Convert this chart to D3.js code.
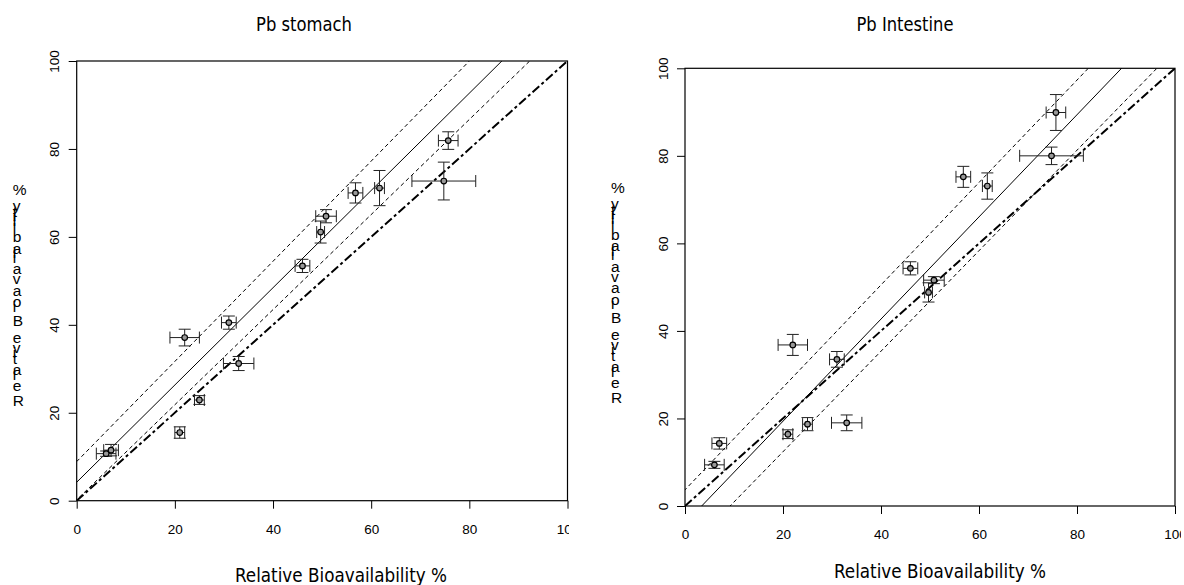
<!DOCTYPE html>
<html>
<head>
<meta charset="utf-8">
<script src="https://cdn.jsdelivr.net/npm/d3@7"></script>
<style>
	html, body { margin: 0; padding: 0; background: #fff; }
	svg { display: block; }
</style>
</head>
<body>
<svg id="chart" width="1184" height="585"></svg>
<script>

	// Values
	var ticks = [0, 20, 40, 60, 80, 100];

	// Relative bioavailability (x) and its error, shared by both panels
	var rba      = [6, 7, 21, 25, 22, 31, 33, 46, 49.7, 50.8, 56.8, 61.7, 74.8, 75.7];
	var rbaErr   = [2, 1.5, 1, 1, 3, 1.5, 3.1, 1.5, 0.8, 2.1, 1.5, 1, 6.5, 2];

	var stomach     = [10.7, 11.5, 15.5, 22.9, 37.1, 40.5, 31.2, 53.4, 61.1, 64.7, 70, 71.1, 72.7, 81.9];
	var stomachErr  = [0.6, 1.3, 1.3, 1, 1.9, 1.5, 1.6, 1.5, 2.5, 1.5, 2.3, 4, 4.3, 2];

	var intestine    = [9.4, 14.3, 16.4, 18.7, 36.8, 33.5, 19, 54.3, 48.8, 51.6, 75.2, 73.1, 80, 89.9];
	var intestineErr = [0.8, 1.3, 1, 1.5, 2.4, 1.8, 1.8, 1.5, 2.2, 0.8, 2.4, 3, 2, 4.1];

	// regression [intercept, slope] and the two band lines, each through two read points
	var stomachFit    = [4.2, 1.106];
	var stomachUpper  = [[0, 8.9], [80, 100]];
	var stomachLower  = [[0, 0.2], [92.3, 100]];

	var intestineFit   = [-3.97, 1.167];
	var intestineUpper = [[0, 3.7], [82.3, 100]];
	var intestineLower = [[9.2, 0], [96.3, 100]];

	var oneToOne = [[0, 0], [100, 100]];

	var chart = (function(){

		var svg = d3.select('#chart');
		var labelText = 'Relative Bioavailability %';
		var narrow = '"Liberation Sans Narrow", "DejaVu Sans Condensed", "Liberation Sans", sans-serif';
		var arial = '"Liberation Sans", Arial, sans-serif';

		function through(pts){
			// extend the line through two points past both ends of the plot
			var s = (pts[1][1] - pts[0][1]) / (pts[1][0] - pts[0][0]);
			return [[-20, pts[0][1] + s * (-20 - pts[0][0])], [120, pts[0][1] + s * (120 - pts[0][0])]];
		}

		function fitLine(f){
			return [[-20, f[0] + f[1] * -20], [120, f[0] + f[1] * 120]];
		}

		function stackedLabel(x0, yStart, yLast){
			// the y title is drawn as upright letters stacked bottom to top
			var meas = svg.append('text')
				.style('font-family', arial).style('font-size', '15.5px')
				.style('white-space', 'pre')
				.text(labelText);
			var chars = labelText.split('');
			var widths = chars.map(function(c, i){ return meas.node().getSubStringLength(i, 1); });
			meas.remove();
			var k = (yStart - yLast) / (d3.sum(widths) - widths[widths.length - 1]);
			var cum = 0;
			chars.forEach(function(c, i){
				if(c !== ' '){
					svg.append('text')
						.attr('x', x0)
						.attr('y', yStart - cum * k)
						.style('font-family', arial).style('font-size', '15.5px')
						.attr('fill', '#000')
						.text(c);
				}
				cum += widths[i];
			});
		}

		function panel(cfg){
			var x = d3.scaleLinear().domain([0, 100]).range([cfg.left, cfg.right]);
			var y = d3.scaleLinear().domain([0, 100]).range([cfg.bottom, cfg.top]);

			var defs = svg.append('defs');
			defs.append('clipPath').attr('id', cfg.id + '-page')
				.append('rect').attr('x', cfg.pageX).attr('y', 0).attr('width', cfg.pageW).attr('height', 585);
			defs.append('clipPath').attr('id', cfg.id + '-plot')
				.append('rect').attr('x', cfg.left).attr('y', cfg.top)
				.attr('width', cfg.right - cfg.left).attr('height', cfg.bottom - cfg.top);

			var g = svg.append('g').attr('clip-path', 'url(#' + cfg.id + '-page)');

			// title
			g.append('text')
				.attr('x', cfg.titleX).attr('y', 31)
				.attr('text-anchor', 'middle')
				.style('font-family', narrow).style('font-size', '19px')
				.attr('textLength', cfg.titleW).attr('lengthAdjust', 'spacingAndGlyphs')
				.text(cfg.title);

			// lines, clipped to the plot region
			var line = d3.line().x(function(d){ return x(d[0]); }).y(function(d){ return y(d[1]); });
			var lines = g.append('g').attr('clip-path', 'url(#' + cfg.id + '-plot)').attr('fill', 'none');

			lines.append('path').datum(through(cfg.upper)).attr('d', line)
				.attr('stroke', '#000').attr('stroke-width', 1).attr('stroke-dasharray', '4,3');
			lines.append('path').datum(through(cfg.lower)).attr('d', line)
				.attr('stroke', '#000').attr('stroke-width', 1).attr('stroke-dasharray', '4,3');
			lines.append('path').datum(fitLine(cfg.fit)).attr('d', line)
				.attr('stroke', '#000').attr('stroke-width', 1);
			lines.append('path').datum(oneToOne).attr('d', line)
				.attr('stroke', '#000').attr('stroke-width', 2).attr('stroke-dasharray', '9,3,3,3');

			// error bars
			var cap = 6;
			var bars = g.append('g').attr('stroke', '#222').attr('stroke-width', 1).attr('fill', 'none');
			rba.forEach(function(rx, i){
				var v = cfg.values[i], e = cfg.errors[i], xe = rbaErr[i];
				var px = x(rx), py = y(v);
				var yLo = y(v - e), yHi = y(v + e), xLo = x(rx - xe), xHi = x(rx + xe);
				bars.append('line').attr('x1', px).attr('x2', px).attr('y1', yLo).attr('y2', yHi);
				bars.append('line').attr('x1', px - cap).attr('x2', px + cap).attr('y1', yLo).attr('y2', yLo);
				bars.append('line').attr('x1', px - cap).attr('x2', px + cap).attr('y1', yHi).attr('y2', yHi);
				bars.append('line').attr('x1', xLo).attr('x2', xHi).attr('y1', py).attr('y2', py);
				bars.append('line').attr('x1', xLo).attr('x2', xLo).attr('y1', py - cap).attr('y2', py + cap);
				bars.append('line').attr('x1', xHi).attr('x2', xHi).attr('y1', py - cap).attr('y2', py + cap);
			});

			// points
			g.append('g').selectAll('circle').data(rba).enter()
				.append('circle')
				.attr('cx', function(d){ return x(d); })
				.attr('cy', function(d, i){ return y(cfg.values[i]); })
				.attr('r', 2.8)
				.attr('fill', '#999')
				.attr('stroke', '#000')
				.attr('stroke-width', 1.2);

			// axes
			var xa = g.append('g').attr('transform', 'translate(0,' + cfg.bottom + ')')
				.call(d3.axisBottom(x).tickValues(ticks).tickSize(8).tickFormat(d3.format('d')));
			xa.select('.domain').remove();
			xa.selectAll('text').attr('y', 28.4).attr('dy', '0.35em')
				.style('font-family', arial).style('font-size', '13.5px');

			var ya = g.append('g').attr('transform', 'translate(' + cfg.left + ',0)')
				.call(d3.axisLeft(y).tickValues(ticks).tickSize(8).tickFormat(d3.format('d')));
			ya.select('.domain').remove();
			ya.selectAll('text')
				.attr('x', null).attr('dy', '0.35em')
				.attr('transform', 'translate(-22,0) rotate(-90)')
				.attr('text-anchor', 'middle')
				.style('font-family', arial).style('font-size', '13.5px');

			g.selectAll('.tick line').attr('stroke', '#000');

			// box
			g.append('rect')
				.attr('x', cfg.left).attr('y', cfg.top)
				.attr('width', cfg.right - cfg.left).attr('height', cfg.bottom - cfg.top)
				.attr('fill', 'none').attr('stroke', '#000').attr('stroke-width', 1.2);

			// x title
			g.append('text')
				.attr('x', cfg.xLabelX).attr('y', cfg.xLabelY)
				.attr('text-anchor', 'middle')
				.style('font-family', narrow).style('font-size', '19px')
				.attr('textLength', 212).attr('lengthAdjust', 'spacingAndGlyphs')
				.text(labelText);
		}

		function init(){
			panel({
				id: 'stomach', title: 'Pb stomach', titleX: 304, titleW: 96,
				pageX: 0, pageW: 569,
				left: 76.7, right: 567.5, top: 61, bottom: 500.7,
				xLabelX: 341, xLabelY: 582,
				values: stomach, errors: stomachErr,
				fit: stomachFit, upper: stomachUpper, lower: stomachLower
			});
			panel({
				id: 'intestine', title: 'Pb Intestine', titleX: 905, titleW: 97,
				pageX: 592, pageW: 589,
				left: 685, right: 1175, top: 68.3, bottom: 506,
				xLabelX: 940, xLabelY: 577.5,
				values: intestine, errors: intestineErr,
				fit: intestineFit, upper: intestineUpper, lower: intestineLower
			});
			stackedLabel(12.7, 406, 195);
			stackedLabel(611, 402.7, 193.3);
		}

		init();

		return null;

	})();

</script>
</body>
</html>
